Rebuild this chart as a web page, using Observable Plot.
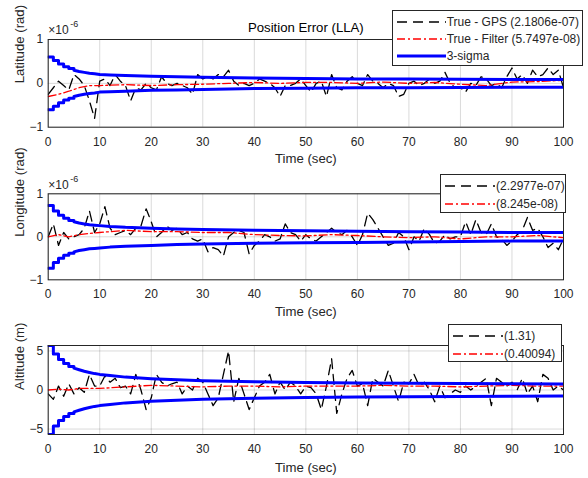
<!DOCTYPE html>
<html><head><meta charset="utf-8">
<script src="https://cdn.jsdelivr.net/npm/d3@7"></script>
<script src="https://cdn.jsdelivr.net/npm/@observablehq/plot@0.6"></script>
<style>
body{margin:0;background:#fff;font-family:"Liberation Sans",Arial,sans-serif;}
#wrap{position:relative;width:588px;height:478px;overflow:hidden;background:#fff;}
.panel{position:absolute;left:0;}
.legend{position:absolute;background:#fff;border:1px solid #262626;font-size:12px;color:#262626;box-sizing:border-box;}
.row{position:absolute;display:flex;align-items:center;height:16px;white-space:nowrap;}
</style></head><body><div id="wrap"></div><script>
// ---- data (latitude/longitude in units of 1e-6 rad, altitude in m) ----
const time = d3.range(0, 101);
const xTicks = [0,10,20,30,40,50,60,70,80,90,100];

const latGps = [-0.25,-0.1,0.05,-0.05,-0.15,0.2,0.1,-0.05,-0.4,-0.8,0.05,0.1,-0.05,0.2,0.05,-0.05,-0.4,-0.1,-0.15,0.0,-0.1,-0.15,0.15,0.0,-0.05,0.0,-0.05,-0.1,-0.25,0.2,0.1,0.15,0.1,0.2,0.15,0.3,0.05,-0.05,0.0,-0.05,0.0,0.1,0.05,0.0,-0.1,-0.3,-0.05,-0.05,0.0,0.1,-0.05,-0.2,0.0,0.05,-0.3,0.2,-0.1,-0.15,0.05,0.15,0.0,-0.05,0.2,0.05,0.0,-0.1,0.0,-0.05,-0.3,-0.25,0.0,0.05,-0.05,0.0,0.1,0.0,0.05,0.25,0.0,-0.1,-0.1,-0.2,0.0,-0.05,0.15,0.1,-0.05,0.0,-0.1,0.15,0.35,0.1,0.2,0.0,0.3,0.15,0.2,0.35,0.2,0.3,-0.1];
const filtT = [0,2,4,6,8,10,15,20,25,30,35,40,45,50,55,60,65,70,75,80,85,90,95,100];
const latFilt = [-0.3,-0.25,-0.18,-0.1,-0.05,-0.05,-0.03,-0.05,-0.03,-0.02,0.0,0.02,0.0,0.02,0.02,0.0,0.03,0.0,0.02,-0.02,-0.05,0.03,0.04,0.07];

const lonGps = [0.0,0.3,-0.2,0.1,-0.05,0.0,0.05,0.2,0.6,0.1,0.3,0.7,0.2,0.05,0.1,0.15,0.05,0.2,0.25,0.65,0.35,0.0,0.1,0.25,0.15,0.2,0.05,0.1,-0.05,-0.1,-0.05,-0.35,-0.25,-0.3,-0.45,0.0,0.1,0.15,0.1,-0.4,-0.2,-0.1,0.05,0.0,-0.1,-0.05,0.3,0.1,0.05,-0.1,0.05,-0.05,-0.1,0.0,0.1,0.2,0.1,0.05,0.15,0.0,-0.2,0.05,0.55,0.4,0.2,0.0,-0.2,-0.15,0.1,0.0,-0.3,0.0,-0.1,0.2,0.05,-0.15,-0.1,0.05,-0.05,0.0,0.0,0.35,0.05,0.4,0.1,0.05,0.3,0.0,-0.05,-0.2,-0.1,0.05,0.15,0.45,0.15,0.2,0.0,-0.25,-0.15,-0.3,-0.05];
const lonFilt = [0.0,0.05,0.0,0.05,0.08,0.1,0.15,0.12,0.12,0.1,0.1,0.05,0.03,0.02,0.05,0.03,0.0,-0.02,0.0,-0.05,0.0,0.0,0.03,-0.02];

const altGps = [-0.5,-1.2,0.5,-0.8,0.8,-0.5,0.3,-0.3,2.0,0.5,0.5,1.8,1.0,1.5,0.3,0.5,-0.5,2.0,0.0,-2.5,-1.0,2.0,1.0,0.5,0.8,1.0,-0.5,0.5,0.0,1.5,1.0,-0.5,-2.0,-1.0,2.0,5.0,-1.5,1.5,-0.5,-2.5,-1.0,0.5,1.0,2.0,-0.5,1.0,0.0,1.0,0.5,-0.5,0.5,0.3,-0.5,-2.5,0.5,4.0,-3.0,-0.5,1.5,2.5,0.5,0.8,-2.0,1.5,1.0,0.5,2.5,0.5,-1.5,1.0,0.8,2.0,0.5,1.0,0.0,-1.5,0.5,-1.0,-0.5,0.0,-0.3,0.5,0.0,0.5,1.0,1.5,-2.0,1.5,1.0,0.5,1.0,0.0,1.5,-0.5,0.5,-1.5,2.0,1.5,0.0,0.5,0.0];
const altFilt = [0.0,0.1,0.0,0.2,0.2,0.2,0.4,0.6,0.5,0.4,0.5,0.5,0.4,0.5,0.5,0.5,0.6,0.5,0.5,0.4,0.5,0.6,0.5,0.5];

// 3-sigma bounds: stepwise for the first seconds, then smooth
const sigT = [0,1,1,2,2,3,3,4,4,5,5,6,7,8,9,10,12,15,20,25,30,40,50,60,70,80,90,100];
const latSig = [0.6,0.6,0.52,0.52,0.44,0.44,0.38,0.38,0.34,0.34,0.3,0.27,0.25,0.23,0.22,0.2,0.19,0.18,0.16,0.15,0.14,0.12,0.11,0.1,0.1,0.095,0.09,0.09];
const lonSig = [0.73,0.73,0.6,0.6,0.5,0.5,0.43,0.43,0.38,0.38,0.35,0.32,0.3,0.28,0.27,0.26,0.24,0.22,0.2,0.18,0.17,0.15,0.14,0.13,0.12,0.11,0.1,0.1];
const altSig = [5.7,5.7,4.6,4.6,3.9,3.9,3.4,3.4,3.0,3.0,2.8,2.6,2.4,2.25,2.1,2.0,1.85,1.65,1.45,1.3,1.2,1.05,0.95,0.9,0.85,0.82,0.8,0.78];

const legendLat = ["True - GPS (2.1806e-07)", "True - Filter (5.7497e-08)", "3-sigma"];
const legendLon = ["(2.2977e-07)", "(8.245e-08)"];
const legendAlt = ["(1.31)", "(0.40094)"];

const BLACK_DASH = "10,6";
const RED_DASHDOT = "8,3,2,3";

function panel(o) {
  const gps = time.map((t, i) => ({t, v: o.gps[i]}));
  const filt = filtT.map((t, i) => ({t, v: o.filt[i]}));
  const up = sigT.map((t, i) => ({t, v: o.sig[i]}));
  const lo = sigT.map((t, i) => ({t, v: -o.sig[i]}));
  const extra = o.extra || [];
  const p = Plot.plot({
    width: 588, height: o.height,
    marginLeft: 47.7, marginRight: 25, marginTop: o.mt, marginBottom: o.mb,
    style: {background: "transparent", overflow: "visible", fontFamily: "Liberation Sans, Arial, sans-serif", fontSize: "12px", color: "#262626"},
    x: {domain: [0, 100]},
    y: {domain: o.yDomain},
    marks: [
      Plot.gridX(xTicks, {stroke: "#000", strokeOpacity: 0.15}),
      Plot.gridY(o.yTicks, {stroke: "#000", strokeOpacity: 0.15}),
      Plot.line(gps, {x: "t", y: "v", stroke: "#000", strokeWidth: 1.3, strokeDasharray: BLACK_DASH, clip: true}),
      Plot.line(filt, {x: "t", y: "v", stroke: "#ff0000", strokeWidth: 1.3, strokeDasharray: RED_DASHDOT, clip: true}),
      Plot.line(up, {x: "t", y: "v", stroke: "#0000ff", strokeWidth: 3, clip: true}),
      Plot.line(lo, {x: "t", y: "v", stroke: "#0000ff", strokeWidth: 3, clip: true}),
      Plot.frame({stroke: "#262626"}),
      Plot.axisX(xTicks, {tickSize: 0, tickPadding: 10, label: null, fontSize: 12}),
      Plot.axisY(o.yTicks, {tickSize: 0, tickPadding: 5, label: null, fontSize: 12}),
      Plot.text(["Time (sec)"], {frameAnchor: "bottom", lineAnchor: "middle", dy: o.xlabDy, fontSize: 13.2, fill: "#262626"}),
      Plot.text([o.ylabel], {frameAnchor: "left", lineAnchor: "middle", rotate: -90, dx: -28, fontSize: 13.2, fill: "#262626"}),
      ...extra
    ]
  });
  p.classList.add("panel");
  p.style.top = o.top + "px";
  return p;
}

function legend(box, rows) {
  const d = document.createElement("div");
  d.className = "legend";
  Object.assign(d.style, {left: box.x + "px", top: box.y + "px", width: box.w + "px", height: box.h + "px"});
  rows.forEach(r => {
    const row = document.createElement("div");
    row.className = "row";
    row.style.left = "4px";
    row.style.top = (r.cy - box.y - 8) + "px";
    const svg = d3.create("svg").attr("width", box.sw).attr("height", 16).style("display", "block");
    svg.append("line").attr("x1", 0).attr("x2", box.sw).attr("y1", 8).attr("y2", 8)
      .attr("stroke", r.color).attr("stroke-width", r.width).attr("stroke-dasharray", r.dash || null);
    row.appendChild(svg.node());
    const s = document.createElement("span");
    s.textContent = r.label;
    s.style.marginLeft = "1px";
    row.appendChild(s);
    d.appendChild(row);
  });
  return d;
}

const wrap = document.getElementById("wrap");
wrap.appendChild(panel({
  top: 0, height: 170, mt: 39, mb: 43.3, yDomain: [-1, 1], yTicks: [-1, 0, 1],
  gps: latGps, filt: latFilt, sig: latSig, ylabel: "Latitude (rad)", xlabDy: 32,
  extra: [
    Plot.text(["Position Error (LLA)"], {frameAnchor: "top", lineAnchor: "middle", dy: -12, fontSize: 13.2, fill: "#000"}),
    Plot.text(["×10"], {frameAnchor: "top-left", textAnchor: "start", lineAnchor: "middle", dy: -9, dx: 0, fontSize: 12, fill: "#262626"}),
    Plot.text(["-6"], {frameAnchor: "top-left", textAnchor: "start", lineAnchor: "middle", dy: -15, dx: 22, fontSize: 9, fill: "#262626"})
  ]
}));
wrap.appendChild(panel({
  top: 170, height: 150, mt: 23.3, mb: 40.7, yDomain: [-1, 1], yTicks: [-1, 0, 1],
  gps: lonGps, filt: lonFilt, sig: lonSig, ylabel: "Longitude (rad)", xlabDy: 32,
  extra: [
    Plot.text(["×10"], {frameAnchor: "top-left", textAnchor: "start", lineAnchor: "middle", dy: -9, dx: 0, fontSize: 12, fill: "#262626"}),
    Plot.text(["-6"], {frameAnchor: "top-left", textAnchor: "start", lineAnchor: "middle", dy: -15, dx: 22, fontSize: 9, fill: "#262626"})
  ]
}));
wrap.appendChild(panel({
  top: 320, height: 158, mt: 25, mb: 44, yDomain: [-5.7, 5.7], yTicks: [-5, 0, 5],
  gps: altGps, filt: altFilt, sig: altSig, ylabel: "Altitude (m)", xlabDy: 33
}));

wrap.appendChild(legend({x: 391.7, y: 10, w: 191.5, h: 56, sw: 49}, [
  {cy: 21, label: legendLat[0], color: "#000", width: 1.3, dash: BLACK_DASH},
  {cy: 37.7, label: legendLat[1], color: "#ff0000", width: 1.3, dash: RED_DASHDOT},
  {cy: 55, label: legendLat[2], color: "#0000ff", width: 3}
]));
wrap.appendChild(legend({x: 440, y: 174, w: 126, h: 39, sw: 50}, [
  {cy: 185, label: legendLon[0], color: "#000", width: 1.3, dash: BLACK_DASH},
  {cy: 203.3, label: legendLon[1], color: "#ff0000", width: 1.3, dash: RED_DASHDOT}
]));
wrap.appendChild(legend({x: 448, y: 324, w: 114, h: 38, sw: 50}, [
  {cy: 335, label: legendAlt[0], color: "#000", width: 1.3, dash: BLACK_DASH},
  {cy: 352.7, label: legendAlt[1], color: "#ff0000", width: 1.3, dash: RED_DASHDOT}
]));
</script></body></html>
